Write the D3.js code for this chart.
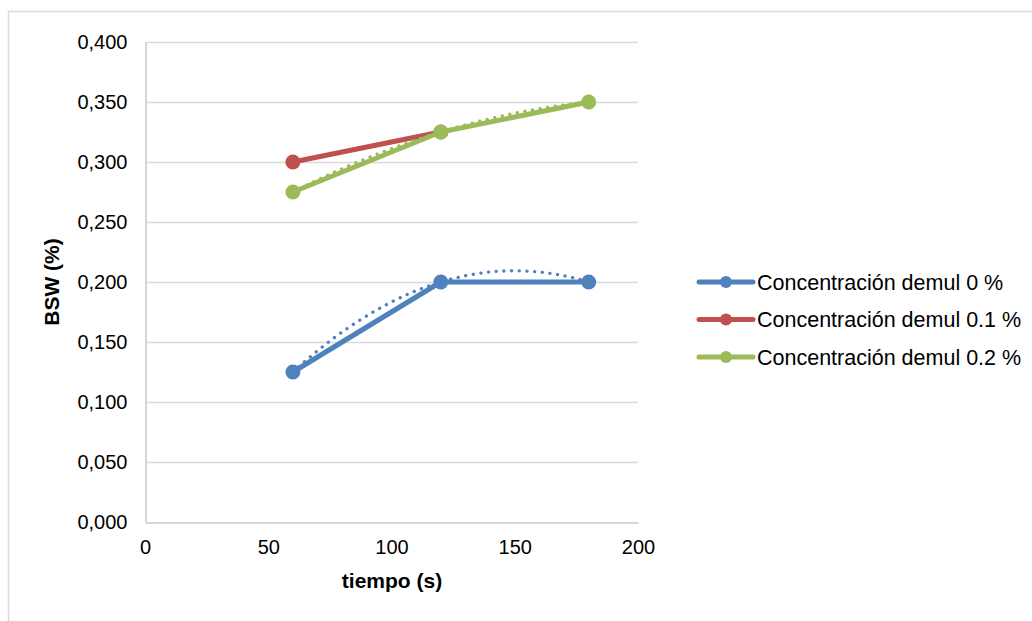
<!DOCTYPE html>
<html>
<head>
<meta charset="utf-8">
<script src="https://cdn.jsdelivr.net/npm/d3@7"></script>
<style>
  html, body { margin: 0; padding: 0; background: #fff; }
  svg { display: block; font-family: "Liberation Sans", Arial, sans-serif; }
</style>
</head>
<body>
<svg id="chart" width="1032" height="621"></svg>
<script>
// Time values (s) and BSW (%) per demulsifier concentration
const tiempo = [60, 120, 180];
const bsw0 = [0.125, 0.200, 0.200];
const bsw01 = [0.300, 0.325];
const bsw02 = [0.275, 0.325, 0.350];

const seriesNames = ["Concentración demul 0 %", "Concentración demul 0.1 %", "Concentración demul 0.2 %"];
const seriesColors = ["#4F81BD", "#C0504D", "#9BBB59"];

const xTicks = [0, 50, 100, 150, 200];
const yTicks = [0, 0.05, 0.1, 0.15, 0.2, 0.25, 0.3, 0.35, 0.4];

const FONT = "Liberation Sans, Arial, sans-serif";
const svg = d3.select("#chart");
const W = 1032, H = 621;

// outer chart frame
svg.append("rect").attr("x", 8.5).attr("y", 11.5).attr("width", W).attr("height", H)
  .attr("fill", "#fff").attr("stroke", "#d9d9d9").attr("stroke-width", 1.5);

const plot = { left: 145, right: 638, top: 42, bottom: 522 };
const x = d3.scaleLinear().domain([0, 200]).range([plot.left, plot.right]);
const y = d3.scaleLinear().domain([0, 0.4]).range([plot.bottom, plot.top]);

// horizontal gridlines
svg.append("g").selectAll("line").data(yTicks.filter(d => d > 0)).join("line")
  .attr("x1", plot.left).attr("x2", plot.right)
  .attr("y1", d => Math.round(y(d)) + 0.5).attr("y2", d => Math.round(y(d)) + 0.5)
  .attr("stroke", "#d9d9d9").attr("stroke-width", 1.5);

// y axis
const fmt = d => d3.format(".3f")(d).replace(".", ",");
const yAxis = svg.append("g").attr("transform", `translate(${plot.left + 0.5},0)`)
  .call(d3.axisLeft(y).tickValues(yTicks).tickFormat(fmt).tickSize(0).tickPadding(18));
yAxis.select(".domain").attr("stroke", "#c8c8c8").attr("stroke-width", 1.5);
yAxis.selectAll("text").attr("font-size", 20).attr("fill", "#000").attr("font-family", FONT);

// x axis
const xAxis = svg.append("g").attr("transform", `translate(0,${plot.bottom + 0.5})`)
  .call(d3.axisBottom(x).tickValues(xTicks).tickFormat(d3.format("d")).tickSize(0).tickPadding(17));
xAxis.select(".domain").attr("stroke", "#c8c8c8").attr("stroke-width", 1.5);
xAxis.selectAll("text").attr("font-size", 20).attr("fill", "#000").attr("font-family", FONT);

// axis titles
svg.append("text").attr("x", 392).attr("y", 588)
  .attr("text-anchor", "middle").attr("font-size", 21).attr("font-weight", "bold")
  .text("tiempo (s)");
svg.append("text").attr("transform", `translate(52,${(plot.top + plot.bottom) / 2}) rotate(-90)`)
  .attr("text-anchor", "middle").attr("dy", "0.35em").attr("font-size", 21).attr("font-weight", "bold")
  .text("BSW (%)");

const line = d3.line().x(d => x(d[0])).y(d => y(d[1]));

// polynomial trendline through the series points (linear for two points, quadratic for three)
function trend(xs, ys) {
  const n = xs.length;
  if (n === 2) {
    const m = (ys[1] - ys[0]) / (xs[1] - xs[0]);
    return t => ys[0] + m * (t - xs[0]);
  }
  return t => {
    let s = 0;
    for (let i = 0; i < n; i++) {
      let l = 1;
      for (let j = 0; j < n; j++) if (j !== i) l *= (t - xs[j]) / (xs[i] - xs[j]);
      s += ys[i] * l;
    }
    return s;
  };
}

const allSeries = [bsw0, bsw01, bsw02].map((vals, i) => ({
  name: seriesNames[i], color: seriesColors[i],
  pts: vals.map((v, k) => [tiempo[k], v])
}));

allSeries.forEach(s => {
  const g = svg.append("g");
  g.append("path").datum(s.pts).attr("d", line)
    .attr("fill", "none").attr("stroke", s.color).attr("stroke-width", 5)
    .attr("stroke-linejoin", "round");
  g.selectAll("circle").data(s.pts).join("circle")
    .attr("cx", d => x(d[0])).attr("cy", d => y(d[1])).attr("r", 7.5)
    .attr("fill", s.color);
  // dotted trendline
  const xs = s.pts.map(d => d[0]), ys = s.pts.map(d => d[1]);
  const f = trend(xs, ys);
  const samples = d3.range(xs[0], xs[xs.length - 1] + 0.01, 1).map(t => [t, f(t)]);
  g.append("path").datum(samples).attr("d", line)
    .attr("fill", "none").attr("stroke", s.color).attr("stroke-width", 3.3)
    .attr("stroke-dasharray", "0.1 7.6").attr("stroke-linecap", "round");
});

// legend
const legend = svg.append("g");
const legY = [282, 319.5, 357];
allSeries.forEach((s, i) => {
  const row = legend.append("g").attr("transform", `translate(0,${legY[i]})`);
  row.append("line").attr("x1", 699).attr("x2", 753).attr("y1", 0).attr("y2", 0)
    .attr("stroke", s.color).attr("stroke-width", 5).attr("stroke-linecap", "round");
  row.append("circle").attr("cx", 726).attr("cy", 0).attr("r", 6).attr("fill", s.color);
  row.append("text").attr("x", 757).attr("y", 0).attr("dy", "0.36em")
    .attr("font-size", 21.5).attr("fill", "#000").text(s.name);
});
</script>
</body>
</html>
